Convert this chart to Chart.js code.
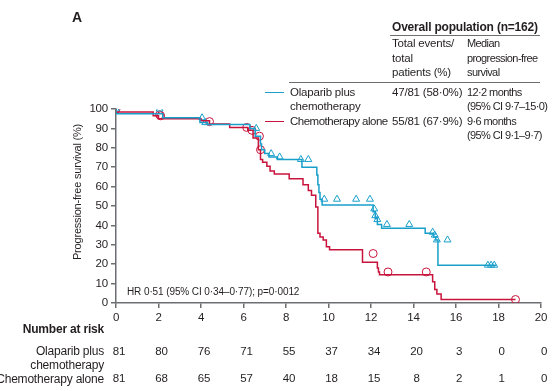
<!DOCTYPE html>
<html>
<head>
<meta charset="utf-8">
<script src="https://cdn.jsdelivr.net/npm/chart.js@4.4.0/dist/chart.umd.min.js"></script>
<style>
    body { margin: 0; background: #fff; }
    #wrap { position: relative; width: 554px; height: 391px; font-family: "Liberation Sans", sans-serif; font-size: 11.5px; letter-spacing: -0.2px; color: #231f20; }
    #wrap canvas { position: absolute; left: 0; top: 0; }
    .t { position: absolute; white-space: nowrap; line-height: 14px; }
    .b { font-weight: bold; }
    .narrow { font-size: 11px; letter-spacing: -0.6px; }
    .rule { position: absolute; height: 0; border-top: 1px solid #6d6e71; }
    .key { position: absolute; height: 0; border-top: 1.5px solid; width: 19px; }
</style>
</head>
<body>
<div id="wrap">
    <canvas id="km" width="554" height="391"></canvas>

    <div class="t b" style="left:72px;top:9px;font-size:14px;line-height:16px;">A</div>

    <div class="t b" style="left:392px;top:20px;font-size:12px;">Overall population (n=162)</div>
    <div class="rule" style="left:390px;top:35px;width:150px;"></div>
    <div class="t" style="left:392px;top:36px;line-height:14.5px;">Total events/<br>total<br>patients (%)</div>
    <div class="t narrow" style="left:467px;top:36px;line-height:14.5px;">Median<br>progression-free<br>survival</div>
    <div class="rule" style="left:289px;top:82px;width:251px;"></div>

    <div class="key" style="left:265px;top:92px;border-color:#1a9fcb;"></div>
    <div class="t" style="left:290px;top:85px;">Olaparib plus<br>chemotherapy</div>
    <div class="t" style="left:392px;top:85px;">47/81 (58·0%)</div>
    <div class="t narrow" style="left:467px;top:85px;">12·2 months<br>(95% CI 9·7–15·0)</div>

    <div class="key" style="left:265px;top:121px;border-color:#c8143c;"></div>
    <div class="t" style="left:290px;top:114px;letter-spacing:-0.5px;">Chemotherapy alone</div>
    <div class="t" style="left:392px;top:114px;">55/81 (67·9%)</div>
    <div class="t narrow" style="left:467px;top:114px;">9·6 months<br>(95% CI 9·1–9·7)</div>

    <div class="t" style="left:-23px;top:185px;width:200px;text-align:center;transform:rotate(-90deg);font-size:11px;">Progression-free survival (%)</div>
    <div class="t" style="left:127px;top:285px;font-size:10px;letter-spacing:-0.1px;">HR 0·51 (95% CI 0·34–0·77); p=0·0012</div>

    <div class="t b" style="right:450px;top:322px;font-size:12px;">Number at risk</div>
    <div class="t" style="right:450px;top:345px;text-align:right;line-height:13.5px;font-size:12px;">Olaparib plus<br>chemotherapy</div>
    <div class="t" style="right:450px;top:372px;font-size:12px;">Chemotherapy alone</div>
</div>

<script>
const blue = '#1a9fcb';
const red = '#c8143c';
const axisGrey = '#6d6e71';

// Kaplan-Meier steps: time (months) and progression-free survival (%)
const olapTime = [0, 2.2, 3.95, 4.3, 6.3, 6.55, 6.8, 6.85, 7.0, 7.2, 7.6, 8.75, 9.45, 9.5, 9.55, 9.6, 9.7, 12.1, 12.2, 12.3, 12.5, 14.55, 14.95, 15.05, 15.15, 15.6, 17.9];
const olapSurv = [100, 97.5, 95.5, 93, 92, 90, 86, 82, 79, 77, 75.3, 74, 70, 66, 61, 57, 53.5, 50.5, 47, 43.5, 40.5, 38.5, 36, 34, 32.5, 19.5, 19.5];
const olapCensorTime = [0, 2.05, 4.05, 4.2, 6.6, 7.3, 7.7, 8.7, 9.05, 9.8, 10.4, 11.3, 11.95, 12.15, 12.2, 12.3, 12.75, 13.8, 14.9, 15.0, 15.1, 15.6, 17.5, 17.65, 17.8];
const olapCensorSurv = [100, 100, 95.5, 93, 90, 77, 75.3, 74, 74, 53.5, 53.5, 53.5, 53.5, 48.5, 45, 43, 40.5, 40.5, 36.5, 35, 32.5, 32.5, 19.5, 19.5, 19.5];

const chemoTime = [0, 1.75, 2.0, 4.0, 4.4, 5.35, 6.2, 6.45, 6.7, 6.8, 6.9, 7.1, 7.25, 7.45, 8.15, 8.8, 9.05, 9.2, 9.4, 9.5, 9.6, 9.75, 9.9, 10.05, 11.6, 12.3, 12.35, 12.4, 14.9, 15.0, 15.1, 15.3, 17.9, 18.8];
const chemoSurv = [100, 98.5, 96.5, 95, 94, 92.3, 90.5, 89, 85, 79, 74, 72.5, 70.5, 68, 66.5, 64, 61, 58, 55.5, 49.5, 36, 34, 32.5, 29, 27.5, 21, 18, 16, 14.5, 11, 7, 4.6, 1.8, 1.8];
const chemoCensorTime = [0, 2.05, 2.1, 4.4, 6.15, 6.4, 6.75, 6.8, 12.1, 12.8, 14.6, 18.8];
const chemoCensorSurv = [100, 97, 96.5, 93.5, 90.5, 89, 86, 79, 25.5, 16, 16, 1.8];

// number at risk
const riskTimes = [0, 2, 4, 6, 8, 10, 12, 14, 16, 18, 20];
const olapAtRisk = [81, 80, 76, 71, 55, 37, 34, 20, 3, 0, 0];
const chemoAtRisk = [81, 68, 65, 57, 40, 18, 15, 8, 2, 1, 0];

const pts = (xs, ys) => xs.map((x, i) => ({ x: x, y: ys[i] }));

const font = { family: '"Liberation Sans", sans-serif', size: 11.5 };

const atRiskPlugin = {
    id: 'atRisk',
    afterDraw(chart) {
        const ctx = chart.ctx;
        const xs = chart.scales.x;
        ctx.save();
        ctx.font = '11.5px "Liberation Sans", sans-serif';
        ctx.fillStyle = '#231f20';
        ctx.textAlign = 'center';
        ctx.textBaseline = 'middle';
        riskTimes.forEach((t, i) => {
            const px = xs.getPixelForValue(t) + 3;
            ctx.fillText(String(olapAtRisk[i]), px, 352);
            ctx.fillText(String(chemoAtRisk[i]), px, 379);
        });
        ctx.restore();
    }
};

new Chart(document.getElementById('km'), {
    type: 'line',
    data: {
        datasets: [
            {
                data: pts(olapTime, olapSurv),
                borderColor: blue, borderWidth: 1.5, stepped: 'after', pointRadius: 0, fill: false
            },
            {
                data: pts(chemoTime, chemoSurv),
                borderColor: red, borderWidth: 1.5, stepped: 'after', pointRadius: 0, fill: false
            },
            {
                data: pts(olapCensorTime, olapCensorSurv),
                showLine: false, pointStyle: 'triangle', pointRadius: 4,
                pointBorderColor: blue, pointBackgroundColor: 'rgba(255,255,255,0)', pointBorderWidth: 1
            },
            {
                data: pts(chemoCensorTime, chemoCensorSurv),
                showLine: false, pointStyle: 'circle', pointRadius: 4,
                pointBorderColor: red, pointBackgroundColor: 'rgba(255,255,255,0)', pointBorderWidth: 1
            }
        ]
    },
    options: {
        responsive: false,
        animation: false,
        layout: { padding: { top: 109, right: 13, left: 0, bottom: 0 } },
        plugins: { legend: { display: false }, tooltip: { enabled: false } },
        scales: {
            x: {
                type: 'linear', min: 0, max: 20,
                ticks: { stepSize: 2, font: font, color: '#231f20', padding: 3, maxRotation: 0 },
                grid: { drawOnChartArea: false, tickLength: 5, color: axisGrey, lineWidth: 1.5 },
                border: { color: axisGrey, width: 1.5 },
                afterFit: s => { s.height = 88; }
            },
            y: {
                min: 0, max: 100,
                ticks: { stepSize: 10, font: font, color: '#231f20', padding: 3 },
                grid: { drawOnChartArea: false, tickLength: 5, color: axisGrey, lineWidth: 1.5 },
                border: { color: axisGrey, width: 1.5 },
                afterFit: s => { s.width = 116; }
            }
        }
    },
    plugins: [atRiskPlugin]
});
</script>
</body>
</html>
